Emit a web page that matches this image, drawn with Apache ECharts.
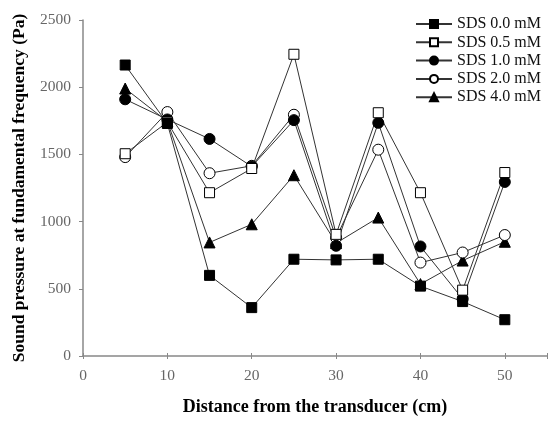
<!DOCTYPE html>
<html><head><meta charset="utf-8">
<script src="https://cdn.jsdelivr.net/npm/echarts@6/dist/echarts.min.js"></script>
<style>html,body{margin:0;padding:0;background:#fff}#c{width:550px;height:423px}</style>
</head><body><div id="c"></div>
<script>
const distances = [5, 10, 15, 20, 25, 30, 35, 40, 45, 50];
const sds00 = [2165, 1730, 600, 360, 720, 715, 720, 520, 405, 270];
const sds05 = [1505, 1740, 1215, 1395, 2245, 905, 1810, 1215, 490, 1365];
const sds10 = [1910, 1760, 1615, 1410, 1755, 820, 1735, 815, 425, 1295];
const sds20 = [1480, 1815, 1360, 1415, 1795, 880, 1535, 695, 770, 900];
const sds40 = [1990, 1745, 845, 980, 1345, 840, 1030, 535, 710, 850];
const seriesNames = ['SDS 0.0 mM', 'SDS 0.5 mM', 'SDS 1.0 mM', 'SDS 2.0 mM', 'SDS 4.0 mM'];
const yTicks = [0, 500, 1000, 1500, 2000, 2500];
const xTicks = [0, 10, 20, 30, 40, 50];

const font = '"Liberation Serif", "Times New Roman", serif';
const pair = arr => distances.map((d, i) => [d, arr[i]]);
const styles = [
  {symbol: 'rect', fill: '#000', size: 10},
  {symbol: 'rect', fill: '#fff', size: 10},
  {symbol: 'circle', fill: '#000', size: 11},
  {symbol: 'circle', fill: '#fff', size: 11},
  {symbol: 'triangle', fill: '#000', size: 11}
];
const values = [sds00, sds05, sds10, sds20, sds40];

const chart = echarts.init(document.getElementById('c'), null, {renderer: 'canvas'});
chart.setOption({
  animation: false,
  backgroundColor: '#fff',
  grid: {left: 83, right: 0, top: 20, bottom: 67, containLabel: false},
  legend: {
    left: 415, top: 16, orient: 'vertical', itemGap: 2.3, padding: 0,
    itemWidth: 36, itemHeight: 10,
    textStyle: {fontFamily: font, fontSize: 16, color: '#111'},
    data: seriesNames
  },
  xAxis: [{
    type: 'value', min: 0, max: 55, interval: 10,
    name: 'Distance from the transducer (cm)', nameLocation: 'middle', nameGap: 42,
    nameTextStyle: {fontFamily: font, fontSize: 18, fontWeight: 'bold', color: '#000'},
    axisLine: {show: true, lineStyle: {color: '#888', width: 1.5}},
    axisTick: {show: true, length: 3, lineStyle: {color: '#888'}},
    axisLabel: {fontFamily: font, fontSize: 15.5, color: '#666', margin: 12,
      formatter: v => xTicks.includes(v) ? String(v) : ''},
    splitLine: {show: false}
  }, {
    type: 'value', min: 0, max: 55, interval: 10, position: 'bottom',
    axisLine: {show: false},
    axisTick: {show: true, inside: true, length: 3, lineStyle: {color: '#888'}},
    axisLabel: {show: false}, splitLine: {show: false}
  }],
  yAxis: {
    type: 'value', min: 0, max: 2500, interval: 500,
    name: 'Sound pressure at fundamental frequency (Pa)', nameLocation: 'middle', nameGap: 55,
    nameTextStyle: {fontFamily: font, fontSize: 17.5, fontWeight: 'bold', color: '#000'},
    axisLine: {show: true, lineStyle: {color: '#888', width: 1.5}},
    axisTick: {show: true, length: 4, lineStyle: {color: '#888'}},
    axisLabel: {fontFamily: font, fontSize: 15.5, color: '#666', margin: 12,
      formatter: v => yTicks.includes(v) ? String(v) : ''},
    splitLine: {show: false}
  },
  series: values.map((arr, i) => ({
    name: seriesNames[i], type: 'line', data: pair(arr),
    symbol: styles[i].symbol, symbolSize: styles[i].size,
    lineStyle: {color: '#333', width: 1},
    itemStyle: {color: styles[i].fill, borderColor: '#000', borderWidth: 1, opacity: 1},
    emphasis: {disabled: true}
  })).reverse()
});
</script></body></html>
